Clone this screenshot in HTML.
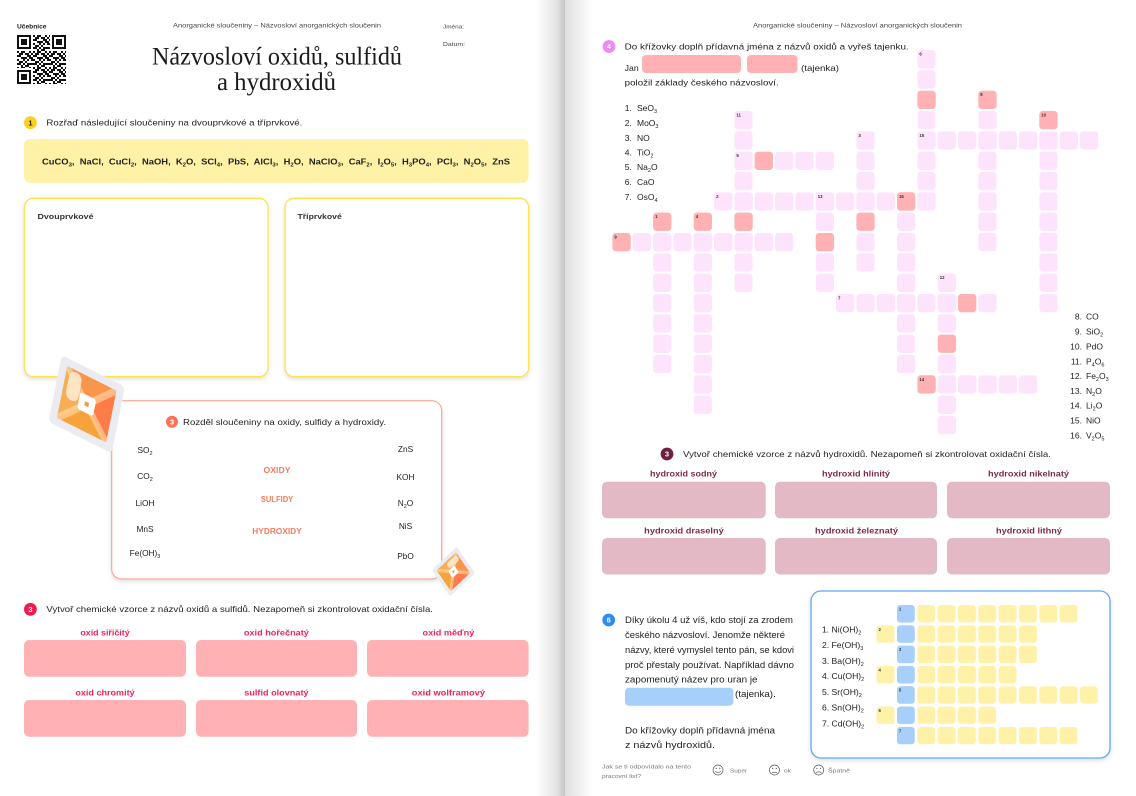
<!DOCTYPE html>
<html><head><meta charset="utf-8">
<style>
html,body{margin:0;padding:0;background:#fff;}
svg{display:block;}
text{font-family:"Liberation Sans",sans-serif;fill:#222;}
.b{font-weight:bold;}
.n{font-weight:bold;fill:#fff;font-size:7.5px;}
.cn{font-weight:bold;font-size:4.3px;fill:#333;}
</style></head>
<body>
<svg width="1136" height="796" viewBox="0 0 1136 796" xmlns="http://www.w3.org/2000/svg">
<defs>
<linearGradient id="gl" x1="0" x2="1" y1="0" y2="0"><stop offset="0" stop-color="#fff"/><stop offset="0.7" stop-color="#e4e4e4"/><stop offset="1" stop-color="#c6c6c6"/></linearGradient>
<linearGradient id="gr" x1="0" x2="1" y1="0" y2="0"><stop offset="0" stop-color="#dedede"/><stop offset="1" stop-color="#fff"/></linearGradient>
<filter id="sh" x="-10%" y="-10%" width="120%" height="130%"><feDropShadow dx="0" dy="2" stdDeviation="2" flood-color="#000" flood-opacity="0.13"/></filter>
<pattern id="qr" x="17" y="35" width="16" height="16" patternUnits="userSpaceOnUse"><path fill="#111" d="M0 0h2v2H0z M4 0h4v2H4z M12 0h2v2h-2z M2 2h4v2H2z M8 2h4v2H8z M14 2h2v2h-2z M0 4h4v2H0z M10 4h4v2h-4z M4 6h6v2H4z M12 6h4v2h-4z M0 8h2v2H0z M6 8h2v2H6z M10 8h2v2h-2z M14 8h2v2h-2z M2 10h4v2H2z M8 10h2v2H8z M0 12h4v2H0z M6 12h2v2H6z M10 12h6v2h-6z M4 14h2v2H4z M8 14h4v2H8z"/></pattern>
<pattern id="pc" x="612.4" y="50" width="20.33" height="20.33" patternUnits="userSpaceOnUse"><rect width="18.3" height="18.3" rx="3.5" fill="#fde3fb"/></pattern>
<pattern id="py" x="876.5" y="605" width="20.35" height="20.3" patternUnits="userSpaceOnUse"><rect width="18" height="17.6" rx="3.5" fill="#fff2a8"/></pattern>
<pattern id="pb" x="876.5" y="605" width="20.35" height="20.3" patternUnits="userSpaceOnUse"><rect width="18" height="17.6" rx="3.5" fill="#a6cff9"/></pattern>
<clipPath id="ic"><rect x="-28" y="-28" width="56" height="56" rx="2"/></clipPath>
<g id="stk">
<rect x="-36" y="-36" width="72" height="72" rx="5" fill="#ecebf2"/>
<g clip-path="url(#ic)">
<rect x="-28" y="-28" width="56" height="56" fill="#f9a03f"/>
<polygon points="0,0 28,-28 28,28" fill="#ff7b47"/>
<polygon points="0,0 -28,-28 28,-28" fill="#fb954a"/>
<polygon points="0,0 28,28 -28,28" fill="#f7a23a"/>
<polygon points="0,0 -28,28 -28,-28" fill="#f8ae55"/>
<line x1="-28" y1="-28" x2="28" y2="28" stroke="#ffdcae" stroke-width="7" opacity="0.6"/>
<line x1="28" y1="-28" x2="-28" y2="28" stroke="#ffdcae" stroke-width="7" opacity="0.6"/>
<rect x="-24" y="-26" width="14" height="30" rx="7" fill="#fde8cc" opacity="0.92"/>
</g>
<rect x="-9" y="-9" width="18" height="18" rx="3" fill="#fff"/>
<rect x="-2.2" y="-2.2" width="4.4" height="4.4" fill="#f79a3c"/>
</g>
</defs>

<!-- gutter -->
<rect x="536" y="0" width="29" height="796" fill="url(#gl)"/>
<rect x="565" y="0" width="27" height="796" fill="url(#gr)"/>

<!-- LEFT PAGE -->
<text x="17" y="28.5" font-size="6" class="b" fill="#333" textLength="29.5" lengthAdjust="spacingAndGlyphs">Učebnice</text>
<rect x="17" y="35" width="49" height="49" fill="url(#qr)"/>
<rect x="17" y="35" width="16" height="16" fill="#fff"/><rect x="17" y="35" width="14" height="14" fill="#111"/><rect x="19" y="37" width="10" height="10" fill="#fff"/><rect x="21" y="39" width="6" height="6" fill="#111"/>
<rect x="50" y="35" width="16" height="16" fill="#fff"/><rect x="52" y="35" width="14" height="14" fill="#111"/><rect x="54" y="37" width="10" height="10" fill="#fff"/><rect x="56" y="39" width="6" height="6" fill="#111"/>
<rect x="17" y="68" width="16" height="16" fill="#fff"/><rect x="17" y="70" width="14" height="14" fill="#111"/><rect x="19" y="72" width="10" height="10" fill="#fff"/><rect x="21" y="74" width="6" height="6" fill="#111"/>

<text x="173" y="27.5" font-size="6" fill="#444" style="fill:#444" textLength="208" lengthAdjust="spacingAndGlyphs">Anorganické sloučeniny – Názvosloví anorganických sloučenin</text>
<text x="443" y="28.5" font-size="5.8" style="fill:#444" textLength="21" lengthAdjust="spacingAndGlyphs">Jména:</text>
<text x="443" y="46" font-size="5.8" style="fill:#444" textLength="22" lengthAdjust="spacingAndGlyphs">Datum:</text>

<text x="152" y="64.5" font-size="25.5" style="font-family:'Liberation Serif',serif;fill:#1a1a1a" textLength="250" lengthAdjust="spacingAndGlyphs">Názvosloví oxidů, sulfidů</text>
<text x="217" y="90" font-size="25.5" style="font-family:'Liberation Serif',serif;fill:#1a1a1a" textLength="119" lengthAdjust="spacingAndGlyphs">a hydroxidů</text>

<circle cx="30.4" cy="122.7" r="6.4" fill="#fcd020"/>
<text x="30.4" y="125.4" class="b" font-size="7.5" text-anchor="middle">1</text>
<text x="46.4" y="125.5" font-size="8.5" textLength="256" lengthAdjust="spacingAndGlyphs">Rozřaď následující sloučeniny na dvouprvkové a tříprvkové.</text>

<rect x="24" y="139" width="504.6" height="43.7" rx="6" fill="#fff2a6"/>
<text x="42" y="164.5" class="b" font-size="8.6" textLength="468" lengthAdjust="spacingAndGlyphs" style="white-space:pre">CuCO<tspan dy="2" font-size="5.5">3</tspan><tspan dy="-2">,  NaCl,  CuCl</tspan><tspan dy="2" font-size="5.5">2</tspan><tspan dy="-2">,  NaOH,  K</tspan><tspan dy="2" font-size="5.5">2</tspan><tspan dy="-2">O,  SCl</tspan><tspan dy="2" font-size="5.5">4</tspan><tspan dy="-2">,  PbS,  AlCl</tspan><tspan dy="2" font-size="5.5">3</tspan><tspan dy="-2">,  H</tspan><tspan dy="2" font-size="5.5">2</tspan><tspan dy="-2">O,  NaClO</tspan><tspan dy="2" font-size="5.5">3</tspan><tspan dy="-2">,  CaF</tspan><tspan dy="2" font-size="5.5">2</tspan><tspan dy="-2">,  I</tspan><tspan dy="2" font-size="5.5">2</tspan><tspan dy="-2">O</tspan><tspan dy="2" font-size="5.5">5</tspan><tspan dy="-2">,  H</tspan><tspan dy="2" font-size="5.5">3</tspan><tspan dy="-2">PO</tspan><tspan dy="2" font-size="5.5">4</tspan><tspan dy="-2">,  PCl</tspan><tspan dy="2" font-size="5.5">3</tspan><tspan dy="-2">,  N</tspan><tspan dy="2" font-size="5.5">2</tspan><tspan dy="-2">O</tspan><tspan dy="2" font-size="5.5">5</tspan><tspan dy="-2">,  ZnS</tspan></text>

<rect x="24.3" y="198.3" width="243.7" height="178.4" rx="9" fill="#fff" stroke="#fde24e" stroke-width="1.3" filter="url(#sh)"/>
<rect x="285" y="198.3" width="243.6" height="178.4" rx="9" fill="#fff" stroke="#fde24e" stroke-width="1.3" filter="url(#sh)"/>
<text x="37.5" y="219" class="b" font-size="7.5" style="fill:#333" textLength="56" lengthAdjust="spacingAndGlyphs">Dvouprvkové</text>
<text x="297.5" y="219" class="b" font-size="7.5" style="fill:#333" textLength="44.3" lengthAdjust="spacingAndGlyphs">Tříprvkové</text>

<!-- section 3 box -->
<rect x="111.7" y="400.7" width="330" height="178.3" rx="10" fill="#fff" stroke="#fba793" stroke-width="1.2" filter="url(#sh)"/>
<circle cx="172" cy="421.7" r="6" fill="#f8735a"/>
<text x="172" y="424.4" class="n" text-anchor="middle">3</text>
<text x="183" y="424.8" font-size="8.5" textLength="203" lengthAdjust="spacingAndGlyphs">Rozděl sloučeniny na oxidy, sulfidy a hydroxidy.</text>

<g font-size="8.3" text-anchor="middle">
<text x="145" y="453">SO<tspan dy="2" font-size="5.5">2</tspan></text>
<text x="145" y="479">CO<tspan dy="2" font-size="5.5">2</tspan></text>
<text x="145" y="506">LiOH</text>
<text x="145" y="532">MnS</text>
<text x="145" y="556">Fe(OH)<tspan dy="2" font-size="5.5">3</tspan></text>
<text x="405.5" y="452">ZnS</text>
<text x="405.5" y="480">KOH</text>
<text x="405.5" y="506">N<tspan dy="2" font-size="5.5">2</tspan><tspan dy="-2">O</tspan></text>
<text x="405.5" y="529">NiS</text>
<text x="405.5" y="559">PbO</text>
</g>
<g class="b" font-size="8" text-anchor="middle">
<text x="277" y="473" style="fill:#f97b5c" textLength="27" lengthAdjust="spacingAndGlyphs">OXIDY</text>
<text x="277" y="502" style="fill:#f97b5c" textLength="32.5" lengthAdjust="spacingAndGlyphs">SULFIDY</text>
<text x="277" y="534" style="fill:#f97b5c" textLength="49.5" lengthAdjust="spacingAndGlyphs">HYDROXIDY</text>
</g>

<!-- stickers -->
<use href="#stk" transform="matrix(0.879,0.440,-0.186,0.926,86.7,404.2)"/>
<use href="#stk" transform="matrix(0.254,0.369,-0.347,0.324,453.4,571.7)"/>

<!-- bottom section 3 -->
<circle cx="30.4" cy="609.3" r="6.4" fill="#f41a4f"/>
<text x="30.4" y="612" class="n" text-anchor="middle">3</text>
<text x="46.4" y="612" font-size="8.5" textLength="386.6" lengthAdjust="spacingAndGlyphs">Vytvoř chemické vzorce z názvů oxidů a sulfidů. Nezapomeň si zkontrolovat oxidační čísla.</text>
<g class="b" font-size="8.5" text-anchor="middle">
<text x="105" y="635.5" style="fill:#f0215c" textLength="49.3" lengthAdjust="spacingAndGlyphs">oxid siřičitý</text>
<text x="276.4" y="635.5" style="fill:#f0215c" textLength="65" lengthAdjust="spacingAndGlyphs">oxid hořečnatý</text>
<text x="448.4" y="635.5" style="fill:#f0215c" textLength="51.8" lengthAdjust="spacingAndGlyphs">oxid měďný</text>
<text x="105" y="695.5" style="fill:#f0215c" textLength="59.3" lengthAdjust="spacingAndGlyphs">oxid chromitý</text>
<text x="276.4" y="695.5" style="fill:#f0215c" textLength="64.3" lengthAdjust="spacingAndGlyphs">sulfid olovnatý</text>
<text x="448.4" y="695.5" style="fill:#f0215c" textLength="73.2" lengthAdjust="spacingAndGlyphs">oxid wolframový</text>
</g>
<g fill="#ffb1b4">
<rect x="24" y="640" width="162" height="36.7" rx="5"/>
<rect x="196" y="640" width="161" height="36.7" rx="5"/>
<rect x="367" y="640" width="161.6" height="36.7" rx="5"/>
<rect x="24" y="700" width="162" height="36.7" rx="5"/>
<rect x="196" y="700" width="161" height="36.7" rx="5"/>
<rect x="367" y="700" width="161.6" height="36.7" rx="5"/>
</g>

<!-- RIGHT PAGE -->
<text x="753" y="27.5" font-size="6" style="fill:#444" textLength="209" lengthAdjust="spacingAndGlyphs">Anorganické sloučeniny – Názvosloví anorganických sloučenin</text>

<circle cx="609" cy="46.5" r="6.4" fill="#ee8bf3"/>
<text x="609" y="49.2" class="n" text-anchor="middle">4</text>
<text x="624.7" y="49.5" font-size="8.5" textLength="284" lengthAdjust="spacingAndGlyphs">Do křížovky doplň přídavná jména z názvů oxidů a vyřeš tajenku.</text>
<text x="624.7" y="71" font-size="8.5" textLength="14" lengthAdjust="spacingAndGlyphs">Jan</text>
<rect x="642" y="55" width="99" height="18" rx="4" fill="#ffb1b3"/>
<rect x="747" y="55" width="50.5" height="18" rx="4" fill="#ffb1b3"/>
<text x="801" y="71" font-size="8.5" textLength="38" lengthAdjust="spacingAndGlyphs">(tajenka)</text>
<text x="624.7" y="85.5" font-size="8.5" textLength="154" lengthAdjust="spacingAndGlyphs">položil základy českého názvosloví.</text>

<g font-size="8.5">
<text x="624.7" y="111">1.</text><text x="637" y="111">SeO<tspan dy="2" font-size="5.5">3</tspan></text>
<text x="624.7" y="126">2.</text><text x="637" y="126">MoO<tspan dy="2" font-size="5.5">3</tspan></text>
<text x="624.7" y="141">3.</text><text x="637" y="141">NO</text>
<text x="624.7" y="155.5">4.</text><text x="637" y="155.5">TiO<tspan dy="2" font-size="5.5">2</tspan></text>
<text x="624.7" y="170">5.</text><text x="637" y="170">Na<tspan dy="2" font-size="5.5">2</tspan><tspan dy="-2">O</tspan></text>
<text x="624.7" y="185">6.</text><text x="637" y="185">CaO</text>
<text x="624.7" y="200">7.</text><text x="637" y="200">OsO<tspan dy="2" font-size="5.5">4</tspan></text>
</g>
<g font-size="8.5">
<text x="1082" y="319.7" text-anchor="end">8.</text><text x="1086" y="319.7">CO</text>
<text x="1082" y="334.7" text-anchor="end">9.</text><text x="1086" y="334.7">SiO<tspan dy="2" font-size="5.5">2</tspan></text>
<text x="1082" y="349.3" text-anchor="end">10.</text><text x="1086" y="349.3">PdO</text>
<text x="1082" y="364.3" text-anchor="end">11.</text><text x="1086" y="364.3">P<tspan dy="2" font-size="5.5">4</tspan><tspan dy="-2">O</tspan><tspan dy="2" font-size="5.5">6</tspan></text>
<text x="1082" y="379" text-anchor="end">12.</text><text x="1086" y="379">Fe<tspan dy="2" font-size="5.5">2</tspan><tspan dy="-2">O</tspan><tspan dy="2" font-size="5.5">3</tspan></text>
<text x="1082" y="394" text-anchor="end">13.</text><text x="1086" y="394">N<tspan dy="2" font-size="5.5">2</tspan><tspan dy="-2">O</tspan></text>
<text x="1082" y="408.7" text-anchor="end">14.</text><text x="1086" y="408.7">Li<tspan dy="2" font-size="5.5">2</tspan><tspan dy="-2">O</tspan></text>
<text x="1082" y="423.3" text-anchor="end">15.</text><text x="1086" y="423.3">NiO</text>
<text x="1082" y="438.3" text-anchor="end">16.</text><text x="1086" y="438.3">V<tspan dy="2" font-size="5.5">2</tspan><tspan dy="-2">O</tspan><tspan dy="2" font-size="5.5">5</tspan></text>
</g>

<!-- crossword -->
<g fill="url(#pc)">
<rect x="917.4" y="50" width="18.3" height="160.6"/>
<rect x="978.3" y="90.7" width="18.3" height="160.6"/>
<rect x="1039.3" y="111" width="18.3" height="201.3"/>
<rect x="734.4" y="111" width="18.3" height="180.9"/>
<rect x="917.4" y="131.3" width="180.9" height="18.3"/>
<rect x="856.4" y="131.3" width="18.3" height="140.3"/>
<rect x="734.4" y="151.7" width="99.6" height="18.3"/>
<rect x="714.1" y="192.3" width="221.6" height="18.3"/>
<rect x="897" y="192.3" width="18.3" height="180.9"/>
<rect x="815.7" y="192.3" width="18.3" height="99.6"/>
<rect x="653.1" y="212.6" width="18.3" height="160.6"/>
<rect x="693.7" y="212.6" width="18.3" height="201.3"/>
<rect x="612.4" y="233" width="180.9" height="18.3"/>
<rect x="937.7" y="273.6" width="18.3" height="160.6"/>
<rect x="836" y="294" width="160.6" height="18.3"/>
<rect x="917.4" y="375.3" width="120" height="18.3"/>
</g>
<g fill="#ffb1b3">
<rect x="917.4" y="90.7" width="18.3" height="18.3" rx="3.5"/>
<rect x="978.3" y="90.7" width="18.3" height="18.3" rx="3.5"/>
<rect x="1039.3" y="111" width="18.3" height="18.3" rx="3.5"/>
<rect x="754.7" y="151.7" width="18.3" height="18.3" rx="3.5"/>
<rect x="897" y="192.3" width="18.3" height="18.3" rx="3.5"/>
<rect x="653.1" y="212.6" width="18.3" height="18.3" rx="3.5"/>
<rect x="693.7" y="212.6" width="18.3" height="18.3" rx="3.5"/>
<rect x="734.4" y="212.6" width="18.3" height="18.3" rx="3.5"/>
<rect x="856.4" y="212.6" width="18.3" height="18.3" rx="3.5"/>
<rect x="612.4" y="233" width="18.3" height="18.3" rx="3.5"/>
<rect x="815.7" y="233" width="18.3" height="18.3" rx="3.5"/>
<rect x="958" y="294" width="18.3" height="18.3" rx="3.5"/>
<rect x="937.7" y="334.6" width="18.3" height="18.3" rx="3.5"/>
<rect x="917.4" y="375.3" width="18.3" height="18.3" rx="3.5"/>
</g>
<g class="cn">
<text class="cn" x="919.4" y="55.5">6</text>
<text class="cn" x="980.3" y="96.2">8</text>
<text class="cn" x="1041.3" y="116.5">10</text>
<text class="cn" x="736.4" y="116.5">11</text>
<text class="cn" x="919.4" y="136.8">15</text>
<text class="cn" x="858.4" y="136.8">3</text>
<text class="cn" x="736.4" y="157.2">5</text>
<text class="cn" x="716.1" y="197.8">2</text>
<text class="cn" x="817.7" y="197.8">13</text>
<text class="cn" x="899" y="197.8">16</text>
<text class="cn" x="655.1" y="218.1">1</text>
<text class="cn" x="695.7" y="218.1">4</text>
<text class="cn" x="614.4" y="238.5">9</text>
<text class="cn" x="939.7" y="279.1">12</text>
<text class="cn" x="838" y="299.5">7</text>
<text class="cn" x="919.4" y="380.8">14</text>
</g>

<!-- hydroxides section -->
<circle cx="667" cy="454" r="6.4" fill="#6d2040"/>
<text x="667" y="456.7" class="n" text-anchor="middle">3</text>
<text x="683" y="457" font-size="8.5" textLength="368" lengthAdjust="spacingAndGlyphs">Vytvoř chemické vzorce z názvů hydroxidů. Nezapomeň si zkontrolovat oxidační čísla.</text>
<g class="b" font-size="8.5" text-anchor="middle">
<text x="683.5" y="476.5" style="fill:#7b2a4d" textLength="67" lengthAdjust="spacingAndGlyphs">hydroxid sodný</text>
<text x="856" y="476.5" style="fill:#7b2a4d" textLength="68" lengthAdjust="spacingAndGlyphs">hydroxid hlinitý</text>
<text x="1028.5" y="476.5" style="fill:#7b2a4d" textLength="81" lengthAdjust="spacingAndGlyphs">hydroxid nikelnatý</text>
<text x="684" y="533.5" style="fill:#7b2a4d" textLength="79.6" lengthAdjust="spacingAndGlyphs">hydroxid draselný</text>
<text x="856.5" y="533.5" style="fill:#7b2a4d" textLength="83" lengthAdjust="spacingAndGlyphs">hydroxid železnatý</text>
<text x="1029" y="533.5" style="fill:#7b2a4d" textLength="66" lengthAdjust="spacingAndGlyphs">hydroxid lithný</text>
</g>
<g fill="#e3b9c6">
<rect x="602" y="481.7" width="163.7" height="36.5" rx="5"/>
<rect x="775" y="481.7" width="162" height="36.5" rx="5"/>
<rect x="947" y="481.7" width="163" height="36.5" rx="5"/>
<rect x="602" y="538" width="163.7" height="36.5" rx="5"/>
<rect x="775" y="538" width="162" height="36.5" rx="5"/>
<rect x="947" y="538" width="163" height="36.5" rx="5"/>
</g>

<!-- section 6 -->
<circle cx="608.7" cy="620" r="6.4" fill="#2e8cf0"/>
<text x="608.7" y="622.7" class="n" text-anchor="middle">6</text>
<g font-size="9">
<text x="625" y="623" textLength="168" lengthAdjust="spacingAndGlyphs">Díky úkolu 4 už víš, kdo stojí za zrodem</text>
<text x="625" y="638" textLength="160" lengthAdjust="spacingAndGlyphs">českého názvosloví. Jenomže některé</text>
<text x="625" y="653" textLength="169" lengthAdjust="spacingAndGlyphs">názvy, které vymyslel tento pán, se kdovi</text>
<text x="625" y="668" textLength="169" lengthAdjust="spacingAndGlyphs">proč přestaly používat. Například dávno</text>
<text x="625" y="682.3" textLength="132.5" lengthAdjust="spacingAndGlyphs">zapomenutý název pro uran je</text>
<text x="735" y="697" textLength="40.8" lengthAdjust="spacingAndGlyphs">(tajenka).</text>
<text x="625" y="733.7" textLength="150" lengthAdjust="spacingAndGlyphs">Do křížovky doplň přídavná jména</text>
<text x="625" y="748" textLength="90" lengthAdjust="spacingAndGlyphs">z názvů hydroxidů.</text>
</g>
<rect x="625" y="687.7" width="108.4" height="18" rx="4" fill="#a6cff9"/>

<rect x="811" y="591" width="299" height="167" rx="10" fill="#fff" stroke="#5ea7f6" stroke-width="1.3" filter="url(#sh)"/>
<g font-size="8.6">
<text x="822" y="632.3">1. Ni(OH)<tspan dy="2" font-size="5.5">2</tspan></text>
<text x="822" y="648">2. Fe(OH)<tspan dy="2" font-size="5.5">3</tspan></text>
<text x="822" y="664">3. Ba(OH)<tspan dy="2" font-size="5.5">2</tspan></text>
<text x="822" y="679">4. Cu(OH)<tspan dy="2" font-size="5.5">2</tspan></text>
<text x="822" y="695">5. Sr(OH)<tspan dy="2" font-size="5.5">2</tspan></text>
<text x="822" y="710.7">6. Sn(OH)<tspan dy="2" font-size="5.5">2</tspan></text>
<text x="822" y="726.3">7. Cd(OH)<tspan dy="2" font-size="5.5">2</tspan></text>
</g>
<g fill="url(#py)">
<rect x="917.2" y="605" width="160.45" height="17.6"/>
<rect x="876.5" y="625.3" width="18" height="17.6"/>
<rect x="917.2" y="625.3" width="119.75" height="17.6"/>
<rect x="917.2" y="645.6" width="119.75" height="17.6"/>
<rect x="876.5" y="665.9" width="18" height="17.6"/>
<rect x="917.2" y="665.9" width="99.4" height="17.6"/>
<rect x="917.2" y="686.2" width="180.8" height="17.6"/>
<rect x="876.5" y="706.5" width="18" height="17.6"/>
<rect x="917.2" y="706.5" width="79.05" height="17.6"/>
<rect x="917.2" y="726.8" width="160.45" height="17.6"/>
</g>
<rect x="896.9" y="605" width="18" height="139.4" fill="url(#pb)"/>
<g>
<text class="cn" x="898.9" y="610.5">1</text>
<text class="cn" x="878.5" y="630.8">2</text>
<text class="cn" x="898.9" y="651.1">3</text>
<text class="cn" x="878.5" y="671.4">4</text>
<text class="cn" x="898.9" y="691.7">5</text>
<text class="cn" x="878.5" y="712">6</text>
<text class="cn" x="898.9" y="732.3">7</text>
</g>

<!-- footer -->
<text x="602" y="768.5" font-size="5.5" style="fill:#777" textLength="89" lengthAdjust="spacingAndGlyphs">Jak se ti odpovídalo na tento</text>
<text x="602" y="778" font-size="5.5" style="fill:#777" textLength="39" lengthAdjust="spacingAndGlyphs">pracovní list?</text>
<g fill="none" stroke="#555" stroke-width="0.7">
<circle cx="718" cy="770" r="5"/>
<path d="M715.3 771.3 q2.7 2.8 5.4 0"/>
<circle cx="774.5" cy="770" r="5"/>
<line x1="772" y1="772.3" x2="777" y2="772.3"/>
<circle cx="818.7" cy="770" r="5"/>
<path d="M816 773 q2.7 -2.6 5.4 0"/>
</g>
<g fill="#555">
<circle cx="716.2" cy="768.4" r="0.6"/><circle cx="719.8" cy="768.4" r="0.6"/>
<circle cx="772.7" cy="768.4" r="0.6"/><circle cx="776.3" cy="768.4" r="0.6"/>
<circle cx="816.9" cy="768.4" r="0.6"/><circle cx="820.5" cy="768.4" r="0.6"/>
</g>
<text x="730" y="772.5" font-size="5.5" style="fill:#777" textLength="17" lengthAdjust="spacingAndGlyphs">Super</text>
<text x="784" y="772.5" font-size="5.5" style="fill:#777" textLength="7" lengthAdjust="spacingAndGlyphs">ok</text>
<text x="828" y="772.5" font-size="5.5" style="fill:#777" textLength="22" lengthAdjust="spacingAndGlyphs">Špatně</text>
</svg>
</body></html>
